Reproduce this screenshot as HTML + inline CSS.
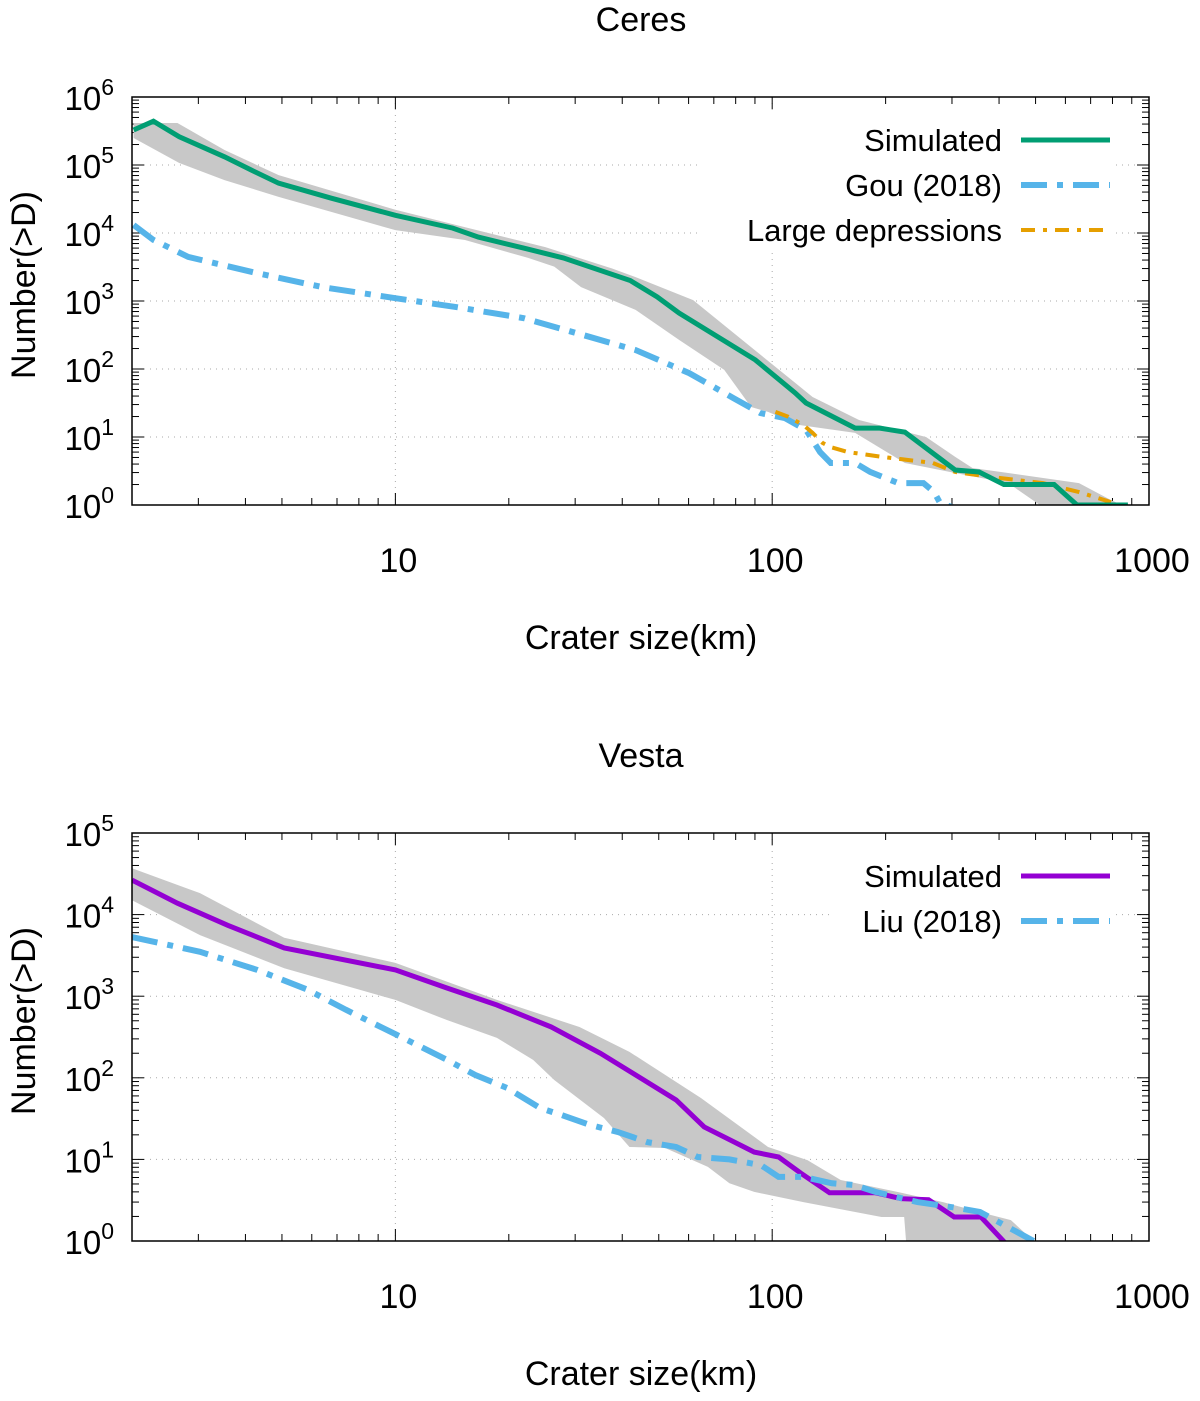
<!DOCTYPE html>
<html><head><meta charset="utf-8"><style>
html,body{margin:0;padding:0;background:#fff;}
svg{display:block;font-family:"Liberation Sans",sans-serif;}
</style></head><body>
<svg id="chart" width="1200" height="1401" viewBox="0 0 1200 1401" xmlns="http://www.w3.org/2000/svg"></svg>
<script>
// ---- Ceres data ----
const ceresSimD = [2.02,2.28,2.67,3.52,4.15,4.9,6.76,10,14.2,16.6,21.9,27.9,42,49.5,56.6,90.2,115,123,166,193,225,306,354,412,560,644,879];
const ceresSimN = [3.27e5,4.4e5,2.6e5,1.32e5,8.4e4,5.4e4,3.25e4,1.82e4,1.18e4,8.7e3,6.0e3,4.3e3,2.0e3,1.15e3,665,136,44.6,31.6,13.5,13.5,11.8,3.27,3.06,2.0,2.0,1.0,1.0];
const ceresBandUpD = [2.02,2.64,3.52,4.9,10,14.5,25,37.6,43.4,61.7,87.9,128,170,256,306,340,423,652,793,847];
const ceresBandUpN = [4.15e5,4.15e5,1.66e5,7.1e4,2.2e4,1.31e4,6.2e3,3.0e3,2.24e3,1.03e3,210,38.8,17.8,10,5.1,3.5,2.95,2.1,1.18,1.0];
const ceresBandLoD = [2.02,2.67,3.52,4.9,10,15.3,22.5,26.4,31.1,43.4,56.6,74.6,87.9,97.5,118,166,225,306,423,523];
const ceresBandLoN = [2.5e5,1.07e5,6.0e4,3.4e4,1.1e4,7.9e3,4.3e3,3.2e3,1.6e3,740,268,97,27.6,23.4,15,11.5,4.15,2.95,2.1,0.93];
const gouD = [2.02,2.28,2.82,4.25,6.4,10,14.5,21.9,32.9,43.4,60.2,78.8,93,108,123,134,143,166,182,216,252,269,279,306];
const gouN = [1.31e4,7.9e3,4.45e3,2.6e3,1.6e3,1.1e3,815,560,295,190,87,37.5,22.5,19,12.7,6.0,4.15,4.15,3.06,2.1,2.1,1.55,1.07,0.9];
const depD = [102,110,121,128,136,143,159,196,267,306,377,523,652,793];
const depN = [23.4,20,15,11.5,8.2,7.1,6.0,5.1,4.15,3.06,2.6,2.1,1.55,1.1];
// ---- Vesta data ----
const vestaSimD = [2,2.64,3.59,5.07,10,13.7,18.6,25.9,35,55.6,66,89.6,104,119,142,188,220,260,304,358,415];
const vestaSimN = [2.65e4,1.38e4,7.4e3,3.9e3,2.1e3,1.26e3,780,420,200,53.5,25,12.3,10.7,6.8,3.9,3.9,3.3,3.2,1.97,1.97,0.95];
const liuD = [2,3.03,4.3,5.85,7.4,10.1,13.7,16.3,19.8,24.2,27.6,32.8,38.9,46.6,55.6,63.4,77,93.4,104,121,144,165,188,243,310,356,494];
const liuN = [5.3e3,3.5e3,2.1e3,1.2e3,680,335,166,108,75,42.7,35,26.5,21.7,16.3,14.2,10.7,10,8.5,6.1,6.1,5.1,4.85,4.0,3.0,2.54,2.27,1.0];
const vestaBandUpD = [2,3.03,5.07,10,18.6,30.8,41.8,64.7,97.5,124,152,220,284,363,430,494];
const vestaBandUpN = [3.7e4,1.83e4,5.2e3,2.56e3,900,420,208,56.5,14.2,9.8,5.6,3.9,3.0,2.2,1.8,1.0];
const vestaBandLoD = [2,3.03,5.07,10,13.7,18.6,23.2,26.4,35.8,41.8,52,67.5,77,89.6,121,195,224,227];
const vestaBandLoN = [1.5e4,5.6e3,2.2e3,900,510,308,166,94,32,14.2,13.8,8.1,5.1,4.0,3.0,1.97,1.97,0.9];
const xTicks = [10,100,1000];
const xTickLabels = ["10","100","1000"];

const NS="http://www.w3.org/2000/svg";
const svg=document.getElementById('chart');
function el(tag,attrs,parent){const e=document.createElementNS(NS,tag);for(const k in attrs)e.setAttribute(k,attrs[k]);(parent||svg).appendChild(e);return e;}
const X0=132,X1=1149;
function sx(d){return X0+(Math.log10(d)-Math.log10(2))/(3-Math.log10(2))*(X1-X0);}

function panel(name,top,bottom,decades,title,legend,draw){
  const g=el('g',{});
  
  
  const sy=n=>bottom-(Math.log10(n))/decades*(bottom-top);
  const clip=el('clipPath',{id:'clip-'+name},g);
  el('rect',{x:X0,y:top,width:X1-X0,height:bottom-top},clip);
  const grid=el('g',{stroke:'#aaa','stroke-width':1,'stroke-dasharray':'1,5'},g);
  
  
  for(let k=1;k<decades;k++){el('line',{x1:X0,x2:X1,y1:sy(Math.pow(10,k)),y2:sy(Math.pow(10,k))},grid);}
  for(const t of xTicks.slice(0,2)){el('line',{x1:sx(t),x2:sx(t),y1:top,y2:bottom},grid);}
  const tk=el('g',{stroke:'#000','stroke-width':1},g);
  
  
  for(let dec=0;dec<3;dec++){for(let m=1;m<10;m++){const v=Math.pow(10,dec)*m;if(v<2||v>1000)continue;const x=sx(v);const L=(m===1)?12:7;
    el('line',{x1:x,x2:x,y1:bottom,y2:bottom-L},tk);el('line',{x1:x,x2:x,y1:top,y2:top+L},tk);}}
  for(let dec=0;dec<=decades;dec++){for(let m=1;m<10;m++){const v=Math.pow(10,dec)*m;if(Math.log10(v)>decades+1e-9)continue;const y=sy(v);const L=(m===1)?12:7;
    el('line',{x1:X0,x2:X0+L,y1:y,y2:y},tk);el('line',{x1:X1,x2:X1-L,y1:y,y2:y},tk);}}
  for(let k=0;k<=decades;k++){const t=el('text',{x:114,y:sy(Math.pow(10,k))+13,'font-size':33,'text-anchor':'end'},g);
    
    
    t.textContent='10';const s=el('tspan',{dy:-15,'font-size':23},t);s.textContent=String(k);}
  xTicks.forEach((t,i)=>{const tx=el('text',{x:sx(t)+3,y:bottom+67,'font-size':34,'text-anchor':'middle'},g);
    
    
    tx.textContent=xTickLabels[i];});
  const tt=el('text',{x:641,y:top-66,'font-size':34,'text-anchor':'middle'},g);
  
  
  tt.textContent=title;
  const xl=el('text',{x:641,y:bottom+144,'font-size':34,'text-anchor':'middle'},g);
  
  
  xl.textContent='Crater size(km)';
  const yc=(top+bottom)/2-16;
  const yl=el('text',{x:0,y:0,'font-size':34,'text-anchor':'middle',transform:'translate(35,'+yc+') rotate(-90)'},g);
  
  
  yl.textContent='Number(>D)';
  const data=el('g',{'clip-path':'url(#clip-'+name+')'},g);
  draw(data,sy,bottom);
  const lg=el('g',{},g);
  
  
  el('rect',{x:legend.bx,y:legend.by,width:1115-legend.bx,height:legend.bh,fill:'#fff'},lg);
  legend.items.forEach((it,i)=>{const y=legend.y0+i*45;
    const t=el('text',{x:1002,y:y+11,'font-size':31,'text-anchor':'end'},lg);
    
    
    t.textContent=it.label;
    el('line',{x1:1021,x2:1110,y1:y,y2:y,stroke:it.color,'stroke-width':it.w,'stroke-dasharray':it.dash||'none'},lg);});
  el('rect',{x:X0,y:top,width:X1-X0,height:bottom-top,fill:'none',stroke:'#000','stroke-width':1.5},g);
}
function band(parent,upD,upN,loD,loN,sy,bottom,name){
  let pts=[];for(let i=0;i<upD.length;i++)pts.push(sx(upD[i])+','+Math.min(sy(upN[i]),bottom+5));
  for(let i=loD.length-1;i>=0;i--)pts.push(sx(loD[i])+','+Math.min(sy(loN[i]),bottom+5));
  const p=el('polygon',{points:pts.join(' '),fill:'#c8c8c8'},parent);
  
  
}
function line(parent,D,N,sy,color,w,dash,name){
  const pts=D.map((d,i)=>sx(d)+','+sy(N[i])).join(' ');
  const p=el('polyline',{points:pts,fill:'none',stroke:color,'stroke-width':w,'stroke-dasharray':dash||'none','stroke-linejoin':'miter'},parent);
  
  
}
const blueDash='26,10,6,10';
panel('ceres',97,505,6,'Ceres',{bx:700,by:112,bh:140,y0:140,items:[
  {label:'Simulated',color:'#009e73',w:5},{label:'Gou (2018)',color:'#56b4e9',w:6,dash:blueDash},{label:'Large depressions',color:'#e69f00',w:4,dash:'14,8,4,8'}]},
  (g,sy,b)=>{band(g,ceresBandUpD,ceresBandUpN,ceresBandLoD,ceresBandLoN,sy,b,'ceres-sim-range');
    line(g,gouD,gouN,sy,'#56b4e9',6,blueDash,'gou-2018-line');
    line(g,depD,depN,sy,'#e69f00',4,'14,8,4,8','large-depressions-line');
    line(g,ceresSimD,ceresSimN,sy,'#009e73',5,null,'ceres-simulated-line');});
panel('vesta',833,1241,5,'Vesta',{bx:830,by:852,bh:95,y0:876,items:[
  {label:'Simulated',color:'#9400d3',w:5},{label:'Liu (2018)',color:'#56b4e9',w:6,dash:blueDash}]},
  (g,sy,b)=>{band(g,vestaBandUpD,vestaBandUpN,vestaBandLoD,vestaBandLoN,sy,b,'vesta-sim-range');
    line(g,vestaSimD,vestaSimN,sy,'#9400d3',5,null,'vesta-simulated-line');
    line(g,liuD,liuN,sy,'#56b4e9',6,blueDash,'liu-2018-line');});
</script>
</body></html>
